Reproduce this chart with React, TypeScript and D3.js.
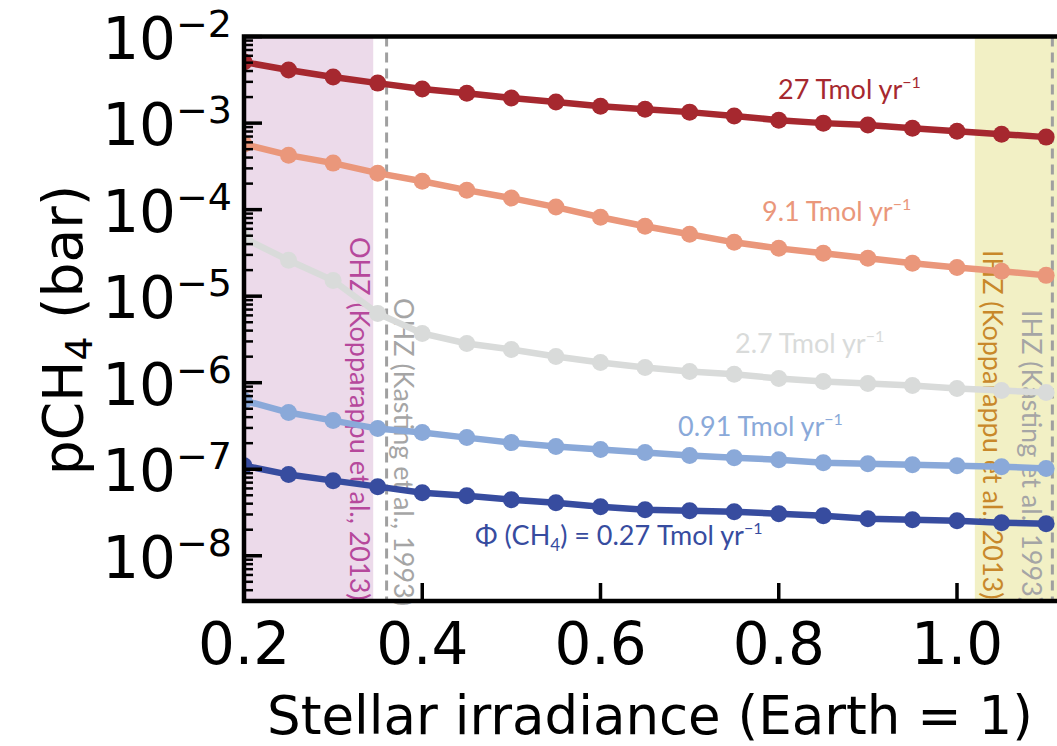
import React from "react";
import * as d3 from "d3";

// stellar irradiance (Earth = 1)
const irradiance = [0.2, 0.25, 0.3, 0.35, 0.4, 0.45, 0.5, 0.55, 0.6, 0.65, 0.7, 0.75, 0.8, 0.85, 0.9, 0.95, 1.0, 1.05, 1.1];

// pCH4 (bar) for each methane flux
const flux27 = [5.08e-3, 4.11e-3, 3.41e-3, 2.9e-3, 2.48e-3, 2.22e-3, 1.95e-3, 1.75e-3, 1.57e-3, 1.45e-3, 1.34e-3, 1.21e-3, 1.08e-3, 1.0e-3, 9.5e-4, 8.75e-4, 8.07e-4, 7.46e-4, 6.89e-4];
const flux9_1 = [5.71e-4, 4.26e-4, 3.45e-4, 2.64e-4, 2.13e-4, 1.68e-4, 1.36e-4, 1.07e-4, 8.17e-5, 6.43e-5, 5.19e-5, 4.19e-5, 3.57e-5, 3.13e-5, 2.74e-5, 2.4e-5, 2.15e-5, 1.94e-5, 1.74e-5];
const flux2_7 = [4.67e-5, 2.6e-5, 1.52e-5, 6.32e-6, 3.71e-6, 2.84e-6, 2.42e-6, 2.01e-6, 1.71e-6, 1.5e-6, 1.35e-6, 1.25e-6, 1.12e-6, 1.03e-6, 9.8e-7, 9.3e-7, 8.57e-7, 8.13e-7, 7.7e-7];
const flux0_91 = [6.22e-7, 4.52e-7, 3.65e-7, 2.95e-7, 2.65e-7, 2.32e-7, 2.03e-7, 1.83e-7, 1.69e-7, 1.56e-7, 1.44e-7, 1.36e-7, 1.29e-7, 1.19e-7, 1.16e-7, 1.13e-7, 1.1e-7, 1.07e-7, 1.02e-7];
const flux0_27 = [1.1e-7, 8.67e-8, 7.38e-8, 6.29e-8, 5.36e-8, 4.95e-8, 4.45e-8, 4.1e-8, 3.69e-8, 3.41e-8, 3.32e-8, 3.23e-8, 3.06e-8, 2.9e-8, 2.68e-8, 2.61e-8, 2.54e-8, 2.41e-8, 2.34e-8];

const xTicks = [0.2, 0.4, 0.6, 0.8, 1.0];
const yExponents = [-2, -3, -4, -5, -6, -7, -8];

const series = [
  { values: flux27, color: "#a6282f", label: "27 Tmol yr", lx: 778, ly: 99 },
  { values: flux9_1, color: "#ea977b", label: "9.1 Tmol yr", lx: 762, ly: 221 },
  { values: flux2_7, color: "#d9dbda", label: "2.7 Tmol yr", lx: 735, ly: 353 },
  { values: flux0_91, color: "#8aa9d9", label: "0.91 Tmol yr", lx: 678, ly: 436 },
  { values: flux0_27, color: "#374c9f", label: "", lx: 475, ly: 545 },
];

const W = 1057;
const H = 746;
const left = 244;
const top = 36.6;
const bottom = 601;

export default function App() {
  const x = d3.scaleLinear().domain([0.2, 1.0]).range([left, 957]);
  const y = d3.scaleLog().domain([3e-9, 1e-2]).range([bottom, top]);
  const right = x(1.115);

  const line = d3
    .line<number>()
    .x((d, i) => x(irradiance[i]))
    .y((d) => y(d));

  const minor: number[] = [];
  for (let e = -9; e < -2; e++) {
    for (let m = 2; m <= 9; m++) {
      const v = m * Math.pow(10, e);
      if (v >= 3e-9 && v <= 1e-2) minor.push(v);
    }
  }

  const labelFont = "Lato, 'Open Sans', sans-serif";
  const tickFont = "'DejaVu Sans', sans-serif";

  return (
    <div style={{ position: "absolute", left: 0, top: 0 }}>
      <svg width={W} height={H} style={{ display: "block" }}>
        <defs>
          <clipPath id="plot">
            <rect x={left} y={top} width={right - left} height={bottom - top} />
          </clipPath>
        </defs>
        <rect width={W} height={H} fill="#fff" />

        {/* habitable zone spans */}
        <rect x={x(0.2)} y={top} width={x(0.345) - x(0.2)} height={bottom - top} fill="#ecdaea" />
        <rect x={x(1.02)} y={top} width={right - x(1.02)} height={bottom - top} fill="#f2f0c5" />

        <line x1={x(0.36)} x2={x(0.36)} y1={top} y2={bottom} stroke="#a0a0a0" strokeWidth={3} strokeDasharray="10,6" />
        <line x1={x(1.107)} x2={x(1.107)} y1={top} y2={bottom} stroke="#a0a0a0" strokeWidth={3} strokeDasharray="10,6" />

        {/* vertical zone labels */}
        <text transform={`translate(350,237) rotate(90)`} fontFamily={labelFont} fontSize={27} fill="#b6489c">
          OHZ (Kopparappu et al., 2013)
        </text>
        <text transform={`translate(394,298) rotate(90)`} fontFamily={labelFont} fontSize={27} fill="#a5a5a5">
          OHZ (Kasting et al., 1993)
        </text>
        <text transform={`translate(983,250) rotate(90)`} fontFamily={labelFont} fontSize={27} fill="#c8882a">
          IHZ (Kopparappu et al., 2013)
        </text>
        <text transform={`translate(1022,310) rotate(90)`} fontFamily={labelFont} fontSize={27} fill="#a5a5a5">
          IHZ (Kasting et al., 1993)
        </text>

        {/* series */}
        <g clipPath="url(#plot)">
          {series.map((s, k) => (
            <g key={k}>
              <path d={line(s.values) || ""} fill="none" stroke={s.color} strokeWidth={6.5} />
              {s.values.map((v, i) => (
                <circle key={i} cx={x(irradiance[i])} cy={y(v)} r={8.5} fill={s.color} />
              ))}
            </g>
          ))}
        </g>

        {/* series labels */}
        {series.map((s, k) =>
          s.label ? (
            <text key={k} x={s.lx} y={s.ly} fontFamily={labelFont} fontSize={27} fill={s.color}>
              {s.label}
              <tspan fontSize={16} dy={-11}>
                −1
              </tspan>
            </text>
          ) : null
        )}
        <text x={475} y={545} fontFamily={labelFont} fontSize={27} fill="#374c9f">
          Φ (CH
          <tspan fontSize={17} dy={6}>4</tspan>
          <tspan dy={-6}>) = 0.27 Tmol yr</tspan>
          <tspan fontSize={16} dy={-11}>−1</tspan>
        </text>

        {/* y ticks */}
        {minor.map((v, i) => (
          <line key={i} x1={left} x2={left + 9} y1={y(v)} y2={y(v)} stroke="#000" strokeWidth={2.5} />
        ))}
        {yExponents.map((e) => (
          <line key={e} x1={left} x2={left + 18} y1={y(Math.pow(10, e))} y2={y(Math.pow(10, e))} stroke="#000" strokeWidth={3.5} />
        ))}
        {xTicks.slice(1).map((t) => (
          <line key={t} x1={x(t)} x2={x(t)} y1={bottom} y2={bottom - 18} stroke="#000" strokeWidth={3.5} />
        ))}

        {/* spines */}
        <path
          d={`M${right},${top}H${left}V${bottom}H${right}`}
          fill="none"
          stroke="#000"
          strokeWidth={4.5}
        />

        {/* tick labels */}
        {xTicks.map((t) => (
          <text key={t} x={x(t)} y={664} textAnchor="middle" fontFamily={tickFont} fontSize={58} fill="#000">
            {t.toFixed(1)}
          </text>
        ))}
        {yExponents.map((e) => (
          <text key={e} x={232} y={y(Math.pow(10, e)) + 22} textAnchor="end" fontFamily={tickFont} fontSize={58} fill="#000">
            10
            <tspan fontSize={38} dy={-22}>
              {"−" + Math.abs(e)}
            </tspan>
          </text>
        ))}

        {/* axis titles */}
        <text x={650} y={734} textAnchor="middle" fontFamily={tickFont} fontSize={53} fill="#000">
          Stellar irradiance (Earth = 1)
        </text>
        <text transform={`translate(82,330) rotate(-90)`} textAnchor="middle" fontFamily={tickFont} fontSize={55} fill="#000">
          pCH
          <tspan fontSize={38} dy={10}>4</tspan>
          <tspan dy={-10}> (bar)</tspan>
        </text>
      </svg>
    </div>
  );
}
